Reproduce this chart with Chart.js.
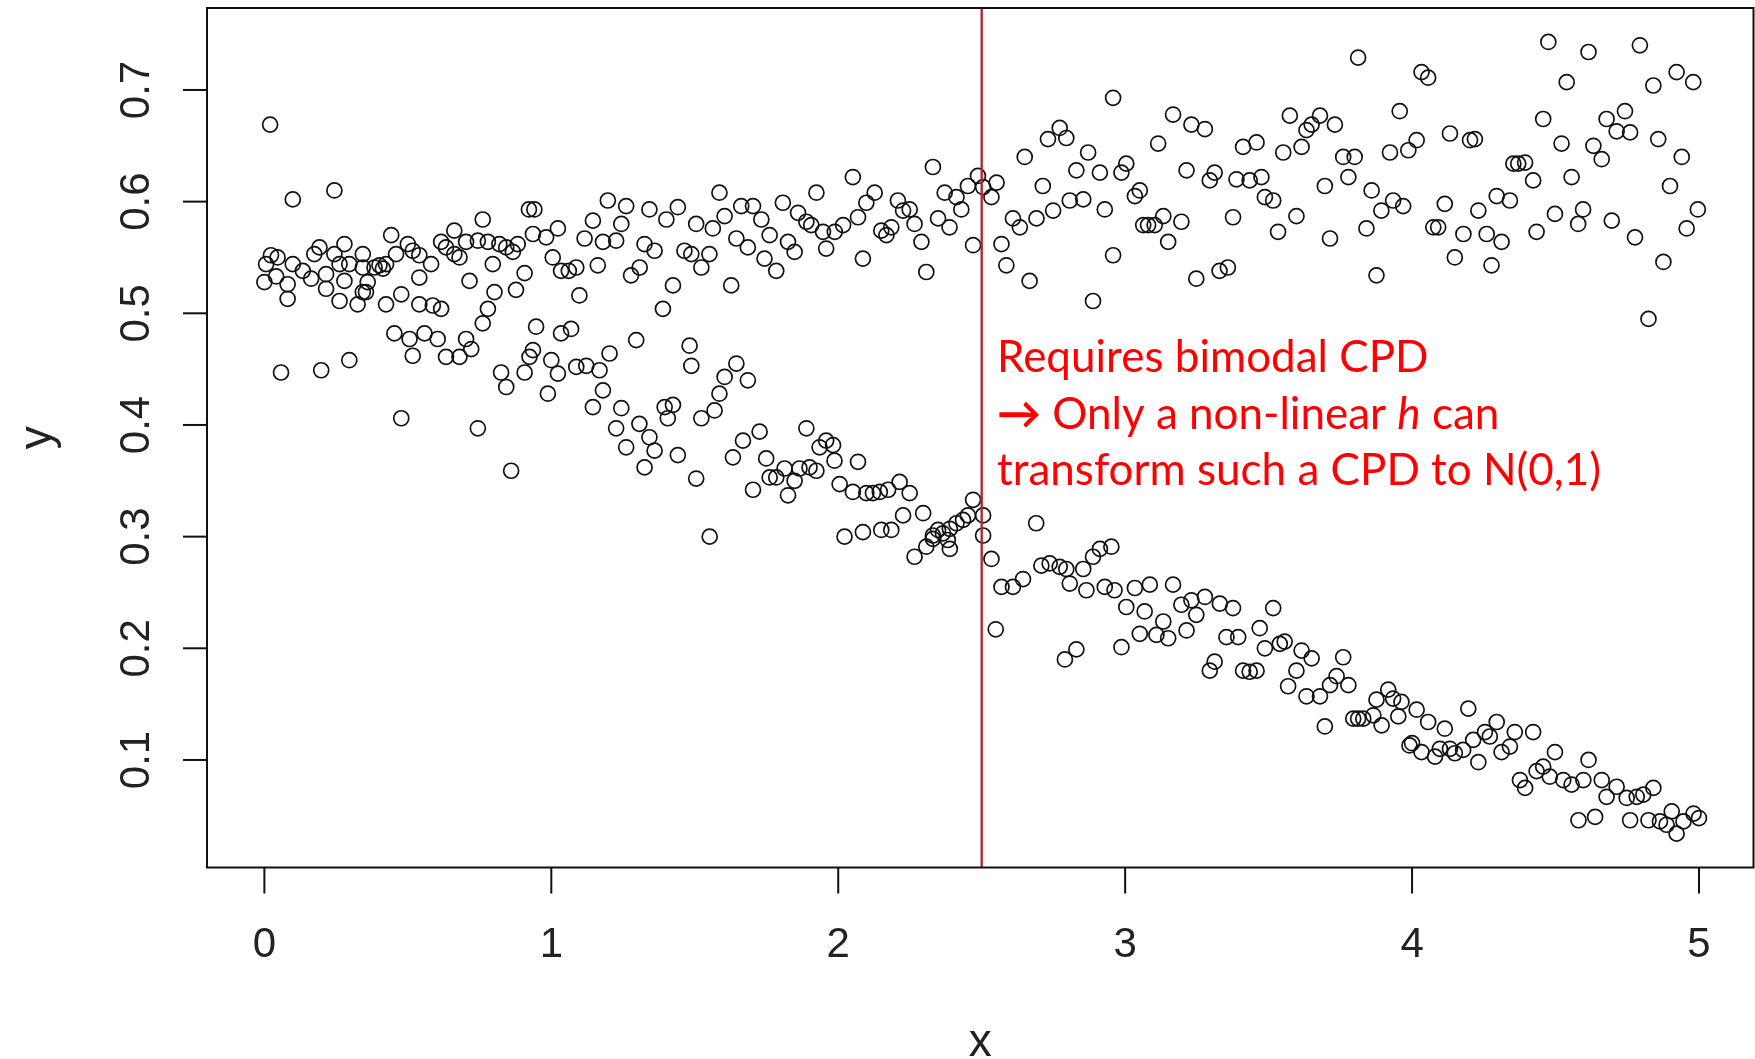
<!DOCTYPE html>
<html>
<head>
<meta charset="utf-8">
<title>Bimodal CPD scatter</title>
<script src="https://cdn.jsdelivr.net/npm/chart.js@4/dist/chart.umd.min.js"></script>
<style>
    html, body { margin: 0; padding: 0; background: #fff; }
    #chart { display: block; }
</style>
</head>
<body>
<canvas id="chart" width="1755" height="1059"></canvas>
<script>
// values, grouped by x range
const xA = [0.020,0.099,0.244,0.922,0.941,0.761,0.936,0.442,0.662,0.279,0.192,0.174,0.023,0.046,0.006,0.000,0.041,0.081,0.081,0.099,0.134,0.163,0.215,0.215,0.244,0.262,0.279,0.296,0.343,0.343,0.360,0.343,0.354,0.384,0.401,0.413,0.424,0.262,0.325,0.424,0.477,0.459,0.500,0.517,0.540,0.540,0.540,0.581,0.587,0.616,0.616,0.633,0.662,0.680,0.703,0.744,0.779,0.819,0.843,0.866,0.883,0.796,0.715,0.907,0.877,0.802,0.779,0.761,0.947,0.453,0.506,0.558,0.604,0.517,0.633,0.680,0.703,0.721,0.825,0.843,0.907,0.924,0.936,0.058,0.198,0.296,0.477,0.744,0.860];
const yA = [0.669,0.602,0.610,0.593,0.593,0.584,0.571,0.570,0.574,0.562,0.559,0.553,0.552,0.550,0.544,0.528,0.533,0.526,0.513,0.544,0.538,0.531,0.535,0.522,0.553,0.544,0.529,0.544,0.553,0.541,0.528,0.519,0.519,0.541,0.543,0.540,0.544,0.511,0.508,0.508,0.517,0.553,0.562,0.556,0.552,0.532,0.508,0.544,0.507,0.504,0.564,0.559,0.553,0.550,0.564,0.565,0.564,0.562,0.559,0.555,0.562,0.544,0.529,0.536,0.521,0.519,0.504,0.491,0.488,0.482,0.477,0.482,0.477,0.462,0.461,0.461,0.477,0.468,0.447,0.434,0.447,0.461,0.467,0.447,0.449,0.458,0.406,0.397,0.359];

const xBUpper = [1.023,0.982,1.005,1.034,1.061,1.087,1.145,1.116,1.162,1.098,1.197,1.261,1.244,1.226,1.180,1.342,1.441,1.401,1.325,1.360,1.308,1.278,1.424,1.389,1.586,1.604,1.505,1.563,1.464,1.488,1.551,1.523,1.627,1.662,1.703,1.732,1.761,1.645,1.685,1.743,1.784,1.807,1.860,1.889,1.906,1.924,1.947,1.958,1.825,1.848];
const yBUpper = [0.576,0.568,0.550,0.538,0.538,0.541,0.583,0.567,0.543,0.516,0.601,0.596,0.580,0.565,0.564,0.593,0.595,0.584,0.562,0.556,0.541,0.534,0.525,0.504,0.608,0.587,0.580,0.576,0.556,0.553,0.553,0.541,0.525,0.596,0.596,0.584,0.570,0.567,0.559,0.549,0.538,0.599,0.590,0.582,0.579,0.608,0.573,0.558,0.564,0.555];
const xBLower = [1.034,1.069,1.000,1.023,1.087,1.122,1.168,1.203,0.988,1.180,1.145,1.244,1.226,1.307,1.342,1.261,1.360,1.325,1.395,1.424,1.406,1.441,1.505,1.296,1.482,1.488,1.523,1.569,1.586,1.604,1.645,1.685,1.633,1.668,1.726,1.749,1.703,1.761,1.784,1.813,1.825,1.848,1.865,1.889,1.900,1.924,1.935,1.958,1.552];
const yBLower = [0.482,0.486,0.458,0.446,0.452,0.453,0.449,0.464,0.428,0.431,0.416,0.415,0.397,0.401,0.389,0.380,0.377,0.362,0.416,0.418,0.406,0.373,0.352,0.476,0.471,0.453,0.406,0.413,0.428,0.443,0.455,0.440,0.371,0.386,0.394,0.370,0.342,0.353,0.353,0.361,0.337,0.350,0.361,0.397,0.362,0.359,0.380,0.386,0.300];

const xCUpper = [1.988,2.017,2.069,2.098,2.127,2.051,2.086,2.150,2.168,2.185,2.208,2.226,2.249,2.266,2.290,2.307,2.330,2.348,2.388,2.371,2.412,2.429,2.452,2.487,2.470,2.505,2.534,2.552,2.569,2.586,2.667,2.609,2.633,2.691,2.749,2.650,2.713,2.731,2.772,2.795,2.807,2.854,2.830,2.871,2.912,2.929,2.958,2.888,2.958];
const yCUpper = [0.573,0.579,0.586,0.599,0.608,0.622,0.549,0.574,0.570,0.577,0.601,0.592,0.593,0.580,0.564,0.537,0.631,0.585,0.577,0.608,0.604,0.593,0.614,0.623,0.561,0.613,0.604,0.617,0.562,0.543,0.529,0.585,0.577,0.585,0.592,0.640,0.614,0.656,0.666,0.657,0.601,0.602,0.628,0.644,0.626,0.593,0.552,0.511,0.693];
const xCLower = [1.982,1.987,2.069,2.005,2.051,2.098,2.121,2.145,2.174,2.214,2.249,2.022,2.086,2.150,2.185,2.226,2.296,2.266,2.307,2.330,2.348,2.365,2.389,2.412,2.435,2.452,2.470,2.389,2.330,2.382,2.505,2.505,2.534,2.690,2.569,2.609,2.644,2.708,2.737,2.772,2.795,2.854,2.888,2.912,2.952,2.807,2.865,2.929,2.963,2.549,2.790,2.830];
const yCLower = [0.382,0.368,0.367,0.347,0.340,0.339,0.339,0.340,0.342,0.349,0.339,0.300,0.304,0.306,0.306,0.319,0.321,0.282,0.291,0.298,0.306,0.303,0.307,0.312,0.315,0.319,0.333,0.289,0.301,0.297,0.319,0.301,0.280,0.312,0.255,0.255,0.262,0.274,0.276,0.273,0.271,0.271,0.282,0.289,0.291,0.258,0.252,0.255,0.252,0.217,0.190,0.199];

const xDUpper = [3.167,3.231,3.278,3.115,3.214,3.004,2.987,3.051,3.034,3.133,3.080,3.103,3.063,3.196,3.150,3.248,3.329,3.358,3.312,3.295,3.388,3.434,3.475,3.411,3.458,3.376,3.487,3.516,3.533,3.597,3.551,3.615,3.574,3.632,3.650,3.679,3.731,3.696,3.714,3.760,3.800,3.778,3.859,3.841,3.893,3.934,3.969,3.876,3.957,3.923,3.987,3.812];
const yDUpper = [0.678,0.669,0.665,0.652,0.628,0.634,0.626,0.610,0.605,0.587,0.579,0.579,0.579,0.582,0.564,0.531,0.538,0.541,0.626,0.619,0.620,0.619,0.622,0.649,0.653,0.586,0.604,0.601,0.573,0.587,0.644,0.649,0.677,0.664,0.669,0.677,0.669,0.614,0.567,0.640,0.640,0.622,0.610,0.576,0.592,0.601,0.596,0.534,0.681,0.644,0.646,0.729];
const xDLower = [3.034,3.086,3.167,3.004,3.068,3.196,3.231,3.278,3.330,3.376,3.248,3.133,3.051,3.109,3.150,3.214,2.987,3.353,3.394,3.295,3.312,3.411,3.434,3.458,3.516,3.469,3.487,3.539,3.556,3.615,3.650,3.597,3.568,3.632,3.679,3.714,3.737,3.778,3.760,3.696,3.795,3.812,3.830,3.865,3.894,3.876,3.917,3.934,3.963,3.952,3.991];
const yDLower = [0.254,0.257,0.257,0.237,0.233,0.239,0.243,0.246,0.240,0.236,0.230,0.224,0.213,0.212,0.209,0.216,0.201,0.210,0.210,0.180,0.188,0.180,0.179,0.180,0.236,0.218,0.200,0.204,0.206,0.198,0.191,0.180,0.166,0.157,0.157,0.167,0.175,0.167,0.192,0.130,0.137,0.137,0.137,0.140,0.131,0.154,0.163,0.155,0.152,0.139,0.113];

const xEUpper = [4.033,4.056,4.475,4.615,4.794,4.539,4.841,4.922,4.980,4.457,4.678,4.742,4.713,4.760,4.858,4.940,4.132,4.202,4.219,4.016,4.521,4.632,4.661,4.353,4.370,4.394,4.422,4.556,4.899,4.114,4.231,4.295,4.341,4.498,4.596,4.579,4.696,4.777,4.996,4.957,4.074,4.091,4.179,4.260,4.312,4.434,4.149,4.277,4.876,4.824];
const yEUpper = [0.716,0.711,0.743,0.734,0.740,0.707,0.704,0.716,0.707,0.674,0.674,0.681,0.663,0.662,0.656,0.640,0.661,0.655,0.656,0.655,0.652,0.650,0.638,0.634,0.634,0.635,0.619,0.622,0.614,0.598,0.592,0.605,0.601,0.589,0.593,0.580,0.583,0.568,0.593,0.576,0.577,0.577,0.571,0.571,0.564,0.573,0.550,0.543,0.546,0.495];
const xELower = [4.016,4.056,4.114,4.196,4.000,4.033,4.080,4.097,4.132,4.149,4.178,4.213,4.254,4.271,4.295,4.231,4.312,4.341,4.358,4.422,4.498,4.615,4.376,4.394,4.434,4.457,4.480,4.527,4.556,4.597,4.661,4.713,4.678,4.748,4.783,4.806,4.841,4.580,4.638,4.760,4.824,4.864,4.887,4.905,4.922,4.946,4.981,5.000];
const yELower = [0.145,0.134,0.128,0.146,0.115,0.107,0.103,0.110,0.110,0.106,0.109,0.118,0.125,0.121,0.134,0.098,0.107,0.112,0.125,0.125,0.107,0.100,0.082,0.075,0.090,0.094,0.085,0.082,0.078,0.082,0.082,0.076,0.067,0.066,0.067,0.069,0.075,0.046,0.049,0.046,0.046,0.045,0.042,0.054,0.034,0.045,0.052,0.048];

// axis ticks and the split marker
const xTicks = [0, 1, 2, 3, 4, 5];
const yTicks = [0.1, 0.2, 0.3, 0.4, 0.5, 0.6, 0.7];
const splitX = 2.5;
const noteLines = ['Requires bimodal CPD', ' Only a non-linear ', 'transform such a CPD to N(0,1)'];

function toPoints(xs, ys) {
    if (xs.length !== ys.length) {
        console.warn('length mismatch', xs.length, ys.length);
    }
    return xs.map((x, i) => ({ x: x, y: ys[i] }));
}

const allPoints = [].concat(
    toPoints(xA, yA),
    toPoints(xBUpper, yBUpper), toPoints(xBLower, yBLower),
    toPoints(xCUpper, yCUpper), toPoints(xCLower, yCLower),
    toPoints(xDUpper, yDUpper), toPoints(xDLower, yDLower),
    toPoints(xEUpper, yEUpper), toPoints(xELower, yELower)
);

// draws the R style box, ticks, labels, the red line and the note
const rStylePlugin = {
    id: 'rStyle',
    afterDraw(chart) {
        const ctx = chart.ctx;
        const area = chart.chartArea;
        const xs = chart.scales.x;
        const ys = chart.scales.y;

        ctx.save();

        // red split line
        const sx = xs.getPixelForValue(splitX);
        ctx.strokeStyle = 'rgb(175,40,50)';
        ctx.lineWidth = 2.4;
        ctx.beginPath();
        ctx.moveTo(sx, area.top);
        ctx.lineTo(sx, area.bottom);
        ctx.stroke();

        // box
        ctx.strokeStyle = '#111';
        ctx.lineWidth = 2;
        ctx.strokeRect(area.left, area.top, area.right - area.left, area.bottom - area.top);

        // x ticks
        ctx.fillStyle = '#222';
        ctx.font = '42px "Liberation Sans", Arial, sans-serif';
        ctx.textAlign = 'center';
        ctx.textBaseline = 'alphabetic';
        xTicks.forEach(t => {
            const px = xs.getPixelForValue(t);
            ctx.beginPath();
            ctx.moveTo(px, area.bottom);
            ctx.lineTo(px, area.bottom + 26);
            ctx.stroke();
            ctx.fillText(String(t), px, 957);
        });

        // y ticks, labels turned like R does
        yTicks.forEach(t => {
            const py = ys.getPixelForValue(t);
            ctx.beginPath();
            ctx.moveTo(area.left, py);
            ctx.lineTo(area.left - 24, py);
            ctx.stroke();
            ctx.save();
            ctx.translate(149, py);
            ctx.rotate(-Math.PI / 2);
            ctx.fillText(t.toFixed(1), 0, 0);
            ctx.restore();
        });

        // axis titles
        ctx.font = '46px "Liberation Sans", Arial, sans-serif';
        ctx.fillText('x', (area.left + area.right) / 2, 1056);
        ctx.save();
        ctx.translate(51, (area.top + area.bottom) / 2);
        ctx.rotate(-Math.PI / 2);
        ctx.fillText('y', 0, 0);
        ctx.restore();

        // red note
        const left = 997;
        ctx.fillStyle = '#ff0000';
        ctx.textAlign = 'left';
        const noteFont = '44px Lato, "Open Sans", sans-serif';
        ctx.font = noteFont;
        ctx.fillText(noteLines[0], left, 372);

        ctx.font = 'bold ' + noteFont;
        ctx.fillText('\u2192', left, 429);
        let w = ctx.measureText('\u2192').width;
        ctx.font = noteFont;
        ctx.fillText(noteLines[1], left + w, 429);
        w += ctx.measureText(noteLines[1]).width;
        ctx.font = 'italic ' + noteFont;
        ctx.fillText('h', left + w, 429);
        w += ctx.measureText('h').width;
        ctx.font = noteFont;
        ctx.fillText(' can', left + w, 429);

        ctx.fillText(noteLines[2], left, 485);

        ctx.restore();
    }
};

function init() {
    const canvas = document.getElementById('chart');
    new Chart(canvas, {
        type: 'scatter',
        data: {
            datasets: [{
                data: allPoints,
                pointStyle: 'circle',
                pointRadius: 7.5,
                pointBorderWidth: 1.7,
                borderColor: '#111',
                backgroundColor: 'rgba(0,0,0,0)'
            }]
        },
        options: {
            responsive: false,
            animation: false,
            devicePixelRatio: 1,
            layout: {
                autoPadding: false,
                padding: { left: 207, right: 1.5, top: 8, bottom: 191.5 }
            },
            plugins: {
                legend: { display: false },
                tooltip: { enabled: false }
            },
            scales: {
                x: { type: 'linear', display: false, min: -0.2, max: 5.19 },
                y: { type: 'linear', display: false, min: 0.0037, max: 0.7734 }
            }
        },
        plugins: [rStylePlugin]
    });
}

window.addEventListener('load', init);
</script>
</body>
</html>
